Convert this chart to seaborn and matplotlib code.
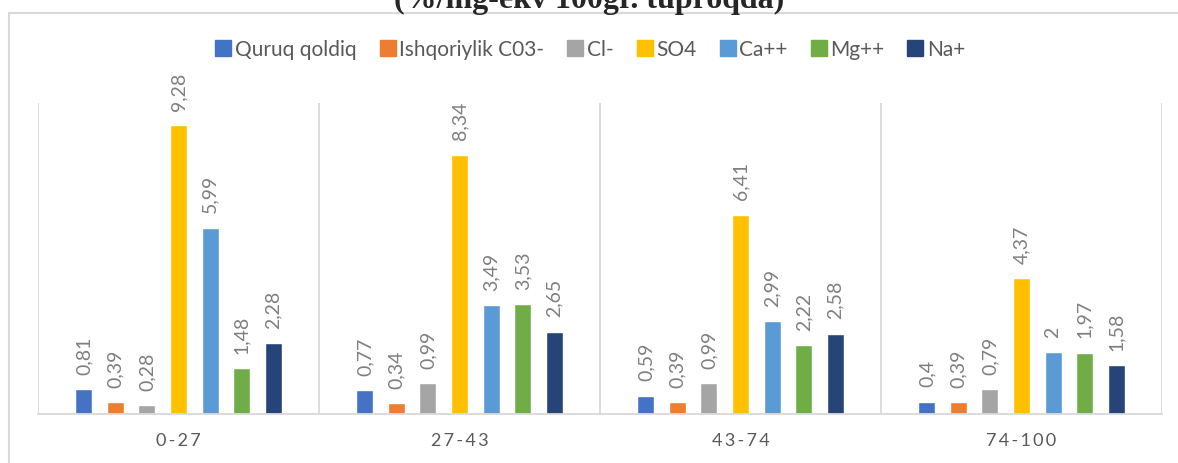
import pandas as pd
import matplotlib.pyplot as plt
import seaborn as sns
from matplotlib.lines import Line2D

# Chart data
depths = ["0-27", "27-43", "43-74", "74-100"]
series = ["Quruq qoldiq", "Ishqoriylik C03-", "Cl-", "SO4", "Ca++", "Mg++", "Na+"]
quruq = [0.81, 0.77, 0.59, 0.40]
ishqor = [0.39, 0.34, 0.39, 0.39]
cl = [0.28, 0.99, 0.99, 0.79]
so4 = [9.28, 8.34, 6.41, 4.37]
ca = [5.99, 3.49, 2.99, 2.00]
mg = [1.48, 3.53, 2.22, 1.97]
na = [2.28, 2.65, 2.58, 1.58]
value_labels = [
    ["0,81", "0,77", "0,59", "0,4"],
    ["0,39", "0,34", "0,39", "0,39"],
    ["0,28", "0,99", "0,99", "0,79"],
    ["9,28", "8,34", "6,41", "4,37"],
    ["5,99", "3,49", "2,99", "2"],
    ["1,48", "3,53", "2,22", "1,97"],
    ["2,28", "2,65", "2,58", "1,58"],
]
colors = ["#4472C4", "#ED7D31", "#A5A5A5", "#FFC000", "#5B9BD5", "#70AD47", "#264478"]

# Long form table for seaborn
rows = []
for name, vals in zip(series, [quruq, ishqor, cl, so4, ca, mg, na]):
    for d, v in zip(depths, vals):
        rows.append({"depth": d, "series": name, "value": v})
df = pd.DataFrame(rows)

sns.set_style("white")
plt.rcParams["font.family"] = ["Lato", "DejaVu Sans"]

fig = plt.figure(figsize=(11.78, 4.64), dpi=100)
W, H = 1178, 464
ax = fig.add_axes([38 / W, 1 - 415 / H, (1162 - 38) / W, (415 - 104) / H])

sns.barplot(data=df, x="depth", y="value", hue="series", hue_order=series,
            order=depths, palette=colors, width=0.785, gap=0.46,
            saturation=1, legend=False, ax=ax)

ax.set_ylim(0, 10)
ax.set_xlim(-0.5, len(depths) - 0.5)

# value labels above bars
for cont, labs in zip(ax.containers, value_labels):
    ax.bar_label(cont, labels=labs, rotation=90, padding=11,
                 color="#7F7F7F", fontsize=14)

# group separators
for i in range(len(depths) + 1):
    ax.axvline(i - 0.5, color="#D9D9D9", lw=1.3, zorder=0)

for s in ["top", "right", "left"]:
    ax.spines[s].set_visible(False)
ax.spines["bottom"].set_color("#D9D9D9")
ax.spines["bottom"].set_linewidth(1.3)
ax.set_yticks([])
ax.set_xlabel("")
ax.set_ylabel("")
ax.set_xticks(range(len(depths)))
ax.set_xticklabels(["\u2009".join(d) for d in depths], color="#595959", fontsize=13)
ax.tick_params(axis="x", length=0, pad=13)

# legend
handles = [Line2D([], [], marker="s", linestyle="", markersize=11,
                  markerfacecolor=c, markeredgecolor=c) for c in colors]
fig.legend(handles, series, loc="center", bbox_to_anchor=(0.5, 1 - 50 / H),
           ncol=7, frameon=False, fontsize=15, handletextpad=0.05,
           columnspacing=1.0, handlelength=1.0, labelcolor="#595959")

# chart frame (left and top edges visible)
fig.add_artist(Line2D([9 / W, 9 / W], [0, 1 - 14 / H], transform=fig.transFigure,
                      color="#D9D9D9", lw=1.5))
fig.add_artist(Line2D([9 / W, 1], [1 - 14 / H, 1 - 14 / H], transform=fig.transFigure,
                      color="#D9D9D9", lw=1.5))

# title, cut at the top as in the source
fig.text(0.5, 1 - 8 / H, "(%/mg-ekv 100gr. tuproqda)", ha="center", va="baseline",
         fontsize=23, fontweight="bold", family=["Liberation Serif", "DejaVu Serif"])

fig.savefig("out.png", dpi=100)
